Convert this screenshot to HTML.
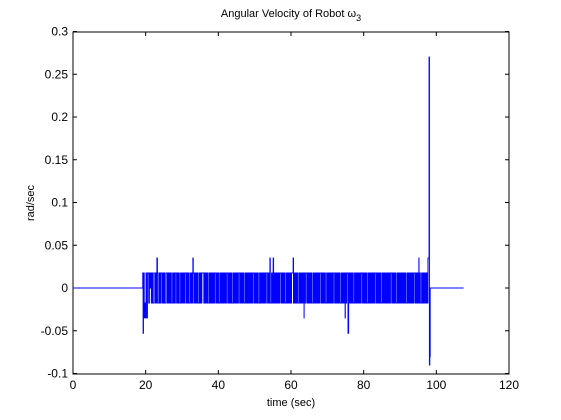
<!DOCTYPE html>
<html><head><meta charset="utf-8"><style>
body{margin:0;background:#fff;}
svg{display:block;font-family:"Liberation Sans",Arial,sans-serif;}
</style></head><body>
<svg id="chart" width="561" height="420">
<rect width="561" height="420" fill="#fff"/>
<text x="291" y="17" font-size="11" text-anchor="middle">Angular Velocity of Robot ω<tspan font-size="9" dy="4">3</tspan></text>
<rect x="73" y="32" width="436" height="342" fill="#fff" stroke="#000" stroke-width="1"/>
<g id="ticks"></g>
<polyline id="series" fill="none" stroke="#0000ff" stroke-width="1"/>
<text x="291" y="406" font-size="11" text-anchor="middle">time (sec)</text>
<text transform="translate(34,203) rotate(-90)" font-size="11" text-anchor="middle">rad/sec</text>
</svg>
<script>
const xTicks=[0,20,40,60,80,100,120];
const yTicks=[-0.1,-0.05,0,0.05,0.1,0.15,0.2,0.25,0.3];
const yTickLabels=["-0.1","-0.05","0","0.05","0.1","0.15","0.2","0.25","0.3"];
const unit=0.0175;
const tStart=19.2, tEnd=97.6;
const pattern="+-+--+-++-+0+-+--++-+-+--+-++-+-+--++-+-+-+--+-+-++-+-+--+-+-+-++-+-+--+-+-++-+-+-+--+-+-+++-+-+-+--+-+-+-+-++-+-+--+-+-+-+-+-++-+-+-+--+-+-+-+-++-+-+-+--+-+-+-+-+-+-++-+-+-+--+-+-+-+-+-++-+-+--+-+-+-+-+-+-++-+-+-+--+-+-+-+-+++-+-+-+--+-+-+-+-+-++-+-+-+-+--+-+-+-+-+-++-+-+-+--+-+-+-+-+-++-+-+-+-+--+-+-+-+-++-+-+-+-+--+-+-+-+-+-++-+-+-+--+-+-+-+-+-++-+-+-+-+--+-+-+-+-+-+-++-+-+-+--+-+-+-+-+-+-+--+-+-+-+-+-++-+-+-+-+--+-+-+-+-+-";
const spikeTimes=[19.3,19.6,20.0,20.4,23.1,33.0,54.2,55.1,60.6,63.6,74.9,75.7,95.2,97.7,98.0,98.1,98.2,98.3];
const spikeValues=[-0.053,-0.035,-0.035,-0.035,0.035,0.035,0.035,0.035,0.035,-0.035,-0.035,-0.053,0.035,0.035,0.27,-0.09,-0.08,0];
const xs=v=>73+(v-0)*436/120;
const ys=v=>288-(v-0)*342/0.4;
const NS="http://www.w3.org/2000/svg";
const g=document.getElementById('ticks');
function mk(tag,attrs,parent){const e=document.createElementNS(NS,tag);for(const k in attrs)e.setAttribute(k,attrs[k]);parent.appendChild(e);return e;}
xTicks.forEach((t,i)=>{
  const x=xs(t);
  const l1=mk('line',{x1:x,x2:x,y1:374,y2:370,stroke:'#000'},g);
  
  
  const l2=mk('line',{x1:x,x2:x,y1:32,y2:36,stroke:'#000'},g);
  
  
  const tx=mk('text',{x:x,y:389,'font-size':12,'text-anchor':'middle'},g);
  tx.textContent=String(t);
  
  
});
yTicks.forEach((t,i)=>{
  const y=ys(t);
  const l1=mk('line',{x1:73,x2:77,y1:y,y2:y,stroke:'#000'},g);
  
  
  const l2=mk('line',{x1:505,x2:509,y1:y,y2:y,stroke:'#000'},g);
  
  
  const tx=mk('text',{x:68,y:y+4,'font-size':12,'text-anchor':'end'},g);
  tx.textContent=yTickLabels[i];
  
  
});
const n=pattern.length;
let samples=[];
for(let i=0;i<n;i++){const c=pattern[i];samples.push([tStart+(tEnd-tStart)*i/(n-1),c==='+'?unit:c==='-'?-unit:0]);}
spikeTimes.forEach((t,i)=>samples.push([t,spikeValues[i]]));
samples.sort((a,b)=>a[0]-b[0]);
let pts=[[0,0]];
let prev=0;
samples.forEach(s=>{pts.push([s[0],prev]);pts.push([s[0],s[1]]);prev=s[1];});
pts.push([98.4,prev],[98.4,0],[107.5,0]);
document.getElementById('series').setAttribute('points',pts.map(p=>xs(p[0]).toFixed(2)+','+ys(p[1]).toFixed(2)).join(' '));
</script>
</body></html>
